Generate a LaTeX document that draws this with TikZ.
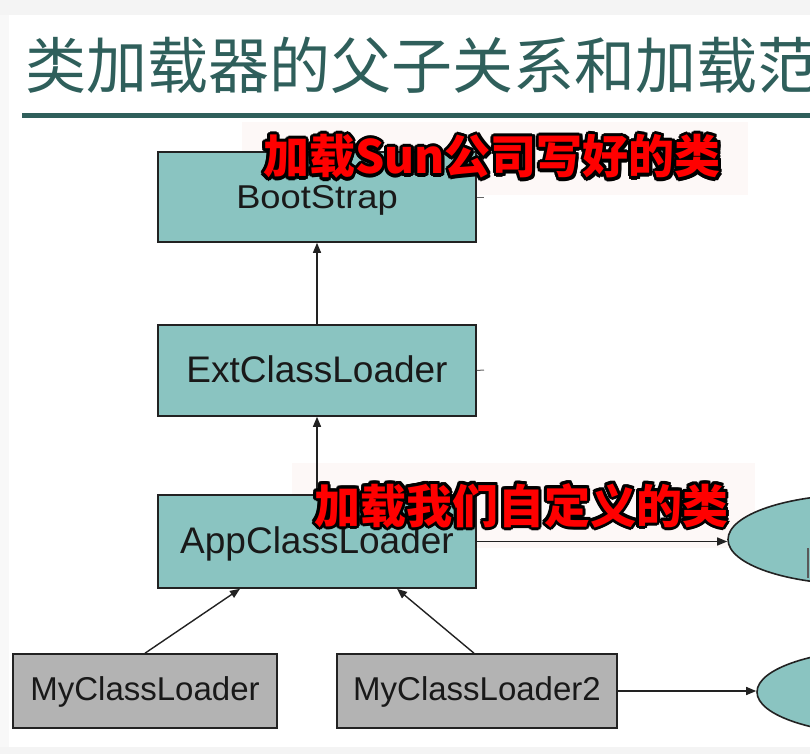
\documentclass[tikz,border=0pt]{standalone}
\usepackage{fontspec}
\setmainfont{Liberation Sans}
\newfontfamily\cjk{Noto Sans CJK SC}
\usetikzlibrary{arrows.meta,shapes.geometric}
\definecolor{teal1}{HTML}{8AC4C1}
\definecolor{gray1}{HTML}{B3B3B3}
\definecolor{titlec}{HTML}{2F5F5B}
\definecolor{edge1}{HTML}{222222}
\definecolor{faint}{HTML}{FDF8F7}
\definecolor{strip}{HTML}{F4F4F4}
\tikzset{
  loader/.style={draw=edge1, line width=1.6pt, fill=teal1, inner sep=0pt, text=black!90,
    font=\fontsize{37}{40}\selectfont, text height=27pt, text depth=4pt},
  mine/.style={draw=edge1, line width=1.6pt, fill=gray1, inner sep=0pt, text=black!90,
    font=\fontsize{33}{38}\selectfont, text height=23pt, text depth=5pt},
  scopeell/.style={ellipse, draw=edge1, line width=1.6pt, fill=teal1, inner sep=0pt},
  link/.style={draw=edge1, line width=1.4pt, -{Triangle[length=10pt,width=8pt]}},
  redtxt/.style={anchor=base west, inner sep=0pt, font=\cjk\bfseries\fontsize{46}{50}\selectfont},
}
\newcommand{\outlinedlabel}[3]{%
  \foreach \a in {0,22.5,...,337.5}{\node[redtxt, text=black, shift={(\a:3pt)}] at (#2) {#3};}
  \foreach \a in {0,45,...,315}{\node[redtxt, text=black, shift={(\a:1.6pt)}] at (#2) {#3};}
  \node[redtxt, text=red] (#1) at (#2) {#3};
}
\begin{document}
\begin{tikzpicture}[x=1pt,y=-1pt]
\useasboundingbox (0,0) rectangle (810,754);
\clip (0,0) rectangle (810,754);
% page strips
\fill[strip] (0,0) rectangle (810,15);
\fill[strip] (0,747) rectangle (810,754);
\fill[strip!60!white] (0,15) rectangle (9,747);
% title
\node[anchor=base west, inner sep=0pt, text=titlec, font=\cjk\fontsize{61}{66}\selectfont] (title) at (25,89) {类加载器的父子关系和加载范围};
\coordinate (ruleL) at (22,115.5);
\coordinate (ruleR) at (812,115.5);
\draw[titlec, line width=5pt] (ruleL) -- (ruleR);
% faint label backgrounds
\fill[faint] (242,122) rectangle (748,195);
\fill[faint] (292,463) rectangle (755,548);
% boxes
\node[loader, minimum width=318pt, minimum height=90pt, font=\fontsize{33}{38}\selectfont, text height=26pt, text depth=4pt] (boot) at (317,197) {\scalebox{1.1}[1]{BootStrap}};
\node[loader, minimum width=318pt, minimum height=91pt] (ext) at (317,370.5) {ExtClassLoader};
\node[loader, minimum width=318pt, minimum height=93pt] (app) at (317,541.5) {AppClassLoader};
\node[mine, minimum width=264pt, minimum height=74pt] (my1) at (145,691) {MyClassLoader};
\node[mine, minimum width=280pt, minimum height=74pt] (my2) at (477,691) {MyClassLoader2};
\node[scopeell, minimum width=264pt, minimum height=90pt] (sc1) at (860,539.5) {};
\node[scopeell, minimum width=264pt, minimum height=86pt] (sc2) at (889,692) {};
\coordinate (mark1) at (808,548);
\coordinate (mark2) at (808,578);
\draw[gray!70!black, line width=1.2pt] (mark1) -- (mark2);
% stubs
\coordinate (stubA) at (484,197);
\coordinate (stubB) at (484,370);
\draw[edge1!70, line width=1pt] (boot.east) -- (stubA);
\draw[edge1!70, line width=1pt] (ext.east) -- (stubB);
% connectors
\draw[link] (ext.north) -- (boot.south);
\draw[link] (app.north) -- (ext.south);
\draw[link] (app.east) -- (sc1.west |- app.east);
\draw[link] (my1.north) -- ([xshift=-77pt]app.south);
\draw[link] ([xshift=-3pt]my2.north) -- ([xshift=80pt]app.south);
\draw[link] (my2.east) -- (sc2.west |- my2.east);
% red labels
\coordinate (l1) at (263,174);
\coordinate (l2) at (314,523);
\outlinedlabel{lab1}{l1}{加载Sun公司写好的类}
\outlinedlabel{lab2}{l2}{加载我们自定义的类}
\end{tikzpicture}
\end{document}
